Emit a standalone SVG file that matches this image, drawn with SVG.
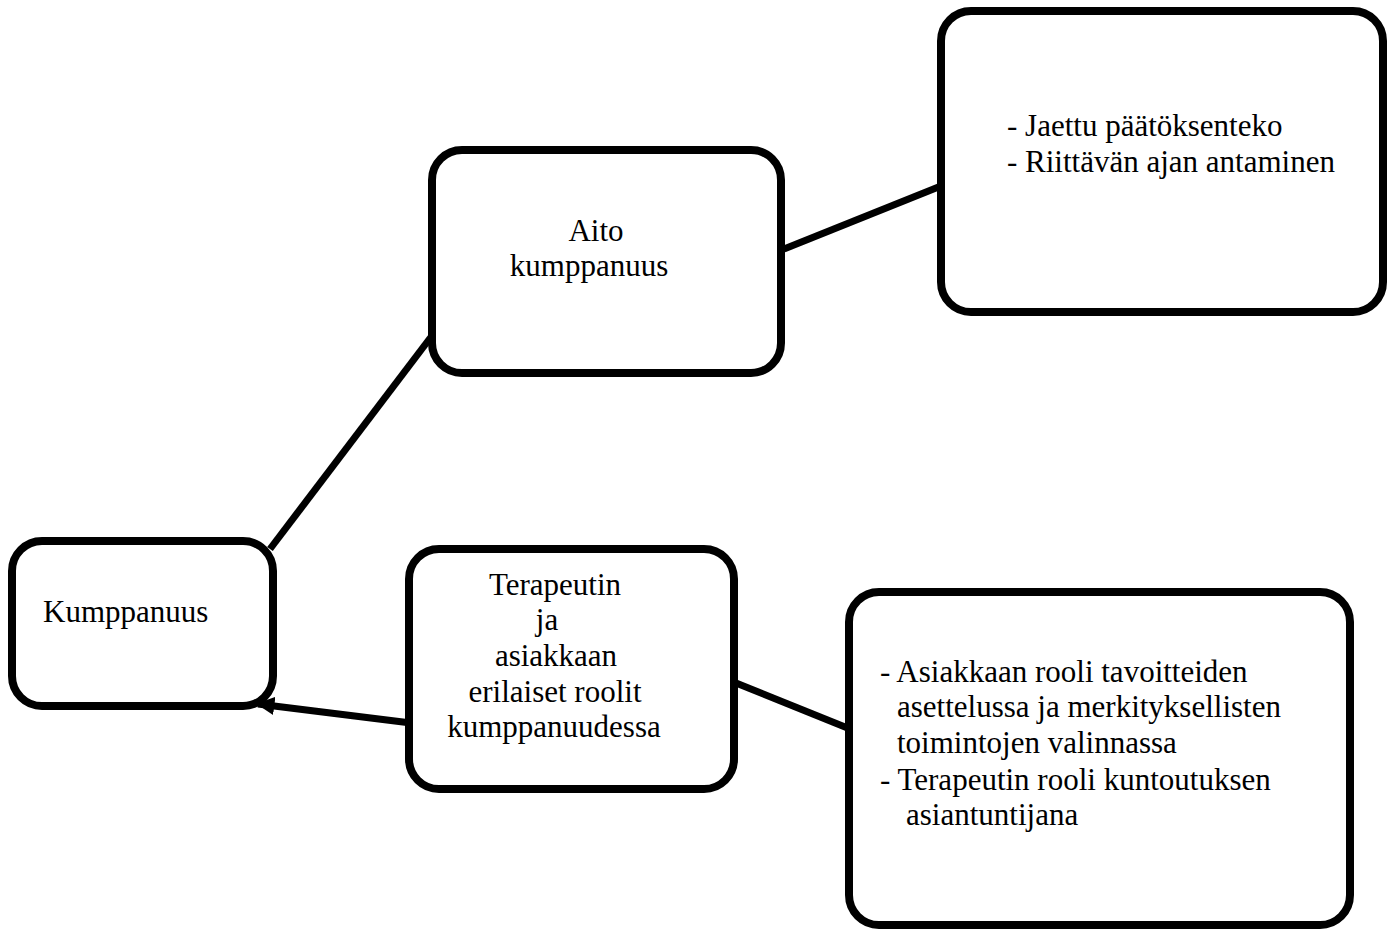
<svg xmlns="http://www.w3.org/2000/svg" width="1396" height="930" viewBox="0 0 1396 930">
<style>
.box{fill:#fff;stroke:#000;stroke-width:8}
.con{stroke:#000;stroke-width:7;fill:none}
text{font-family:"Liberation Serif","Times New Roman",serif;font-size:31px;fill:#000}
.c{text-anchor:middle}
</style>
<defs>
<marker id="arr" viewBox="0 0 10 10" refX="9" refY="5" markerWidth="2.6" markerHeight="2.6" orient="auto" markerUnits="strokeWidth">
<path d="M0,0 L10,5 L0,10 z" fill="#000"/>
</marker>
</defs>
<rect width="1396" height="930" fill="#fff"/>
<g id="connectors">
<line class="con" x1="270" y1="549" x2="434" y2="333"/>
<line class="con" x1="784" y1="249" x2="941" y2="186"/>
<line class="con" x1="411" y1="723" x2="258" y2="704" marker-end="url(#arr)"/>
<line class="con" x1="736" y1="683" x2="850" y2="729"/>
</g>
<g id="kumppanuus">
<rect class="box" x="12" y="541" width="261" height="165" rx="30"/>
<text x="43" y="622">Kumppanuus</text>
</g>
<g id="aito">
<rect class="box" x="432" y="150" width="349" height="223" rx="30"/>
<text class="c" x="596" y="241">Aito</text>
<text class="c" x="589" y="276">kumppanuus</text>
</g>
<g id="aito-detail">
<rect class="box" x="941" y="11" width="442" height="301" rx="30"/>
<text x="1007" y="136">- Jaettu päätöksenteko</text>
<text x="1007" y="172">- Riittävän ajan antaminen</text>
</g>
<g id="roolit">
<rect class="box" x="409" y="549" width="325" height="240" rx="30"/>
<text class="c" x="555" y="595">Terapeutin</text>
<text class="c" x="547" y="630">ja</text>
<text class="c" x="556" y="666">asiakkaan</text>
<text class="c" x="555" y="702">erilaiset roolit</text>
<text class="c" x="554" y="737">kumppanuudessa</text>
</g>
<g id="roolit-detail">
<rect class="box" x="849" y="592" width="501" height="333" rx="30"/>
<text x="880" y="682">- Asiakkaan rooli tavoitteiden</text>
<text x="897" y="717">asettelussa ja merkityksellisten</text>
<text x="897" y="753">toimintojen valinnassa</text>
<text x="880" y="790">- Terapeutin rooli kuntoutuksen</text>
<text x="906" y="825">asiantuntijana</text>
</g>
</svg>
